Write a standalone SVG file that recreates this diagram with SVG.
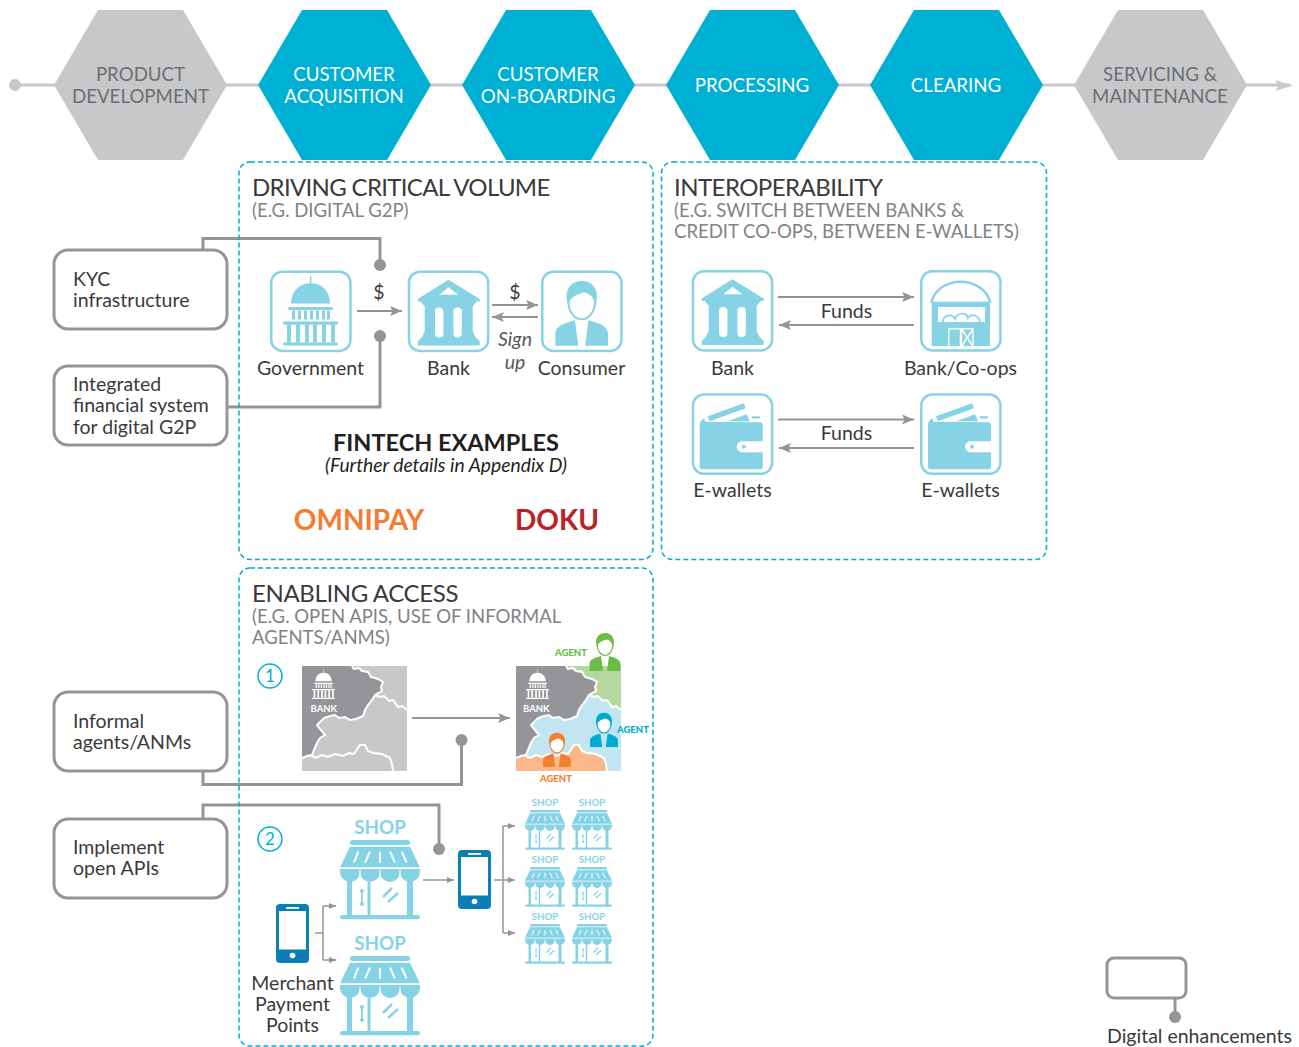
<svg xmlns="http://www.w3.org/2000/svg" width="1299" height="1047" viewBox="0 0 1299 1047">
<style>
text{font-family:"Lato","Liberation Sans",sans-serif;fill:#3a3a3c;font-size:19.5px}
.m{text-anchor:middle}
.hw{fill:#fff;font-size:18.7px}.hg{fill:#6d6e71;font-size:18.7px}
.t{font-size:24px;letter-spacing:-.55px}.s{font-size:18.55px;fill:#808285}
.dash{fill:none;stroke:#00add0;stroke-width:1.5;stroke-dasharray:5 3}
.box{fill:#fff;stroke:#939598;stroke-width:3}
.con{fill:none;stroke:#939598;stroke-width:3}
.dot{fill:#939598}
.ic{fill:#fff;stroke:#86d3e6;stroke-width:2.5}
.ar{fill:none;stroke:#939598;stroke-width:2;marker-end:url(#a)}
.ar2{fill:none;stroke:#939598;stroke-width:1.5;marker-end:url(#b)}
.br{fill:none;stroke:#939598;stroke-width:1.5}
.sh{fill:#86d3e6;font-weight:700;text-anchor:middle;font-size:18.8px}
.sm{font-size:9.7px}
.ag{font-size:9.5px;font-weight:900}
.bk{font-size:9.5px;font-weight:700;fill:#fff}
.tw{stroke:#fff;stroke-width:2;fill:none}
</style>
<defs>
<marker id="a" markerUnits="userSpaceOnUse" markerWidth="12" markerHeight="10" refX="12" refY="5" orient="auto"><path d="M0,0L12,5L0,10L2.5,5Z" fill="#939598"/></marker>
<marker id="b" markerUnits="userSpaceOnUse" markerWidth="7" markerHeight="6" refX="7" refY="3" orient="auto"><path d="M0,0L7,3L0,6Z" fill="#939598"/></marker>
<g id="bank" fill="#86d3e6">
<path d="M40.700,9.300L72,28.500V31H69L65,36V61L68,67L72,71V75H10V71L14,67L17,61V36L13,31H10V28.500Z"/>
<path d="M40.700,16.700L31.700,24.300H50.700Z" fill="#fff"/>
<rect x="27.300" y="37" width="8.400" height="30" rx="4" fill="#fff"/>
<rect x="45.700" y="37" width="8.400" height="30" rx="4" fill="#fff"/>
</g>
<g id="gov" fill="currentColor">
<rect x="40" y="6" width="1.400" height="8"/>
<path d="M21,33C21,20 30,12.700 40.700,12.700S60,20 60,33Z"/>
<rect x="18" y="36.500" width="45" height="3" rx="1.500"/>
<path d="M22,40h3v9h-3zM28,40h3v9h-3zM34,40h3v9h-3zM40,40h3v9h-3zM46,40h3v9h-3zM52,40h3v9h-3zM57,40h3v9h-3z"/>
<rect x="13" y="51" width="55" height="3.200" rx="1.500"/>
<path d="M17,54h4v18h-4zM26,54h4v18h-4zM35,54h4v18h-4zM43,54h4v18h-4zM52,54h4v18h-4zM61,54h4v18h-4z"/>
<rect x="13" y="72" width="55" height="3" rx="1.500"/>
</g>
<g id="person" fill="currentColor">
<ellipse cx="0" cy="0" rx="7.800" ry="10.500" fill="#fff" stroke="currentColor" stroke-width="1.200"/>
<path d="M-8,2C-11,-7 -6,-12 0,-12C7,-12 11,-6 8,3C7.500,-2 5,-5 1,-5.500C-3,-3.500 -6.500,-3.500 -8,2Z"/>
<path d="M-15.500,26V19C-15.500,14 -9,12.500 -4,11L-2,26Z"/>
<path d="M15.500,26V19C15.500,14 9,12.500 4,11L2,26Z"/>
</g>
<g id="barn">
<path d="M11.700,33V31.700C14,20 27,11.700 40.700,11.700S67,20 70,31.700V33" fill="#fff" stroke="#86d3e6" stroke-width="2.500"/>
<rect x="11.700" y="31.700" width="58.300" height="44.300" fill="#86d3e6"/>
<rect x="18" y="37" width="47" height="15" fill="#fff"/>
<path d="M23,52c0,-7 9,-9 12,-3c2,-7 12,-7 13,-1c3,-5 11,-3 12,4" fill="none" stroke="#86d3e6" stroke-width="1.800"/>
<rect x="28.700" y="58.700" width="11.800" height="18" fill="#86d3e6" stroke="#fff" stroke-width="1.500"/>
<path d="M41.500,58.700h11.500v18h-11.500zM41.500,58.700l11.500,18M53,58.700l-11.500,18" fill="none" stroke="#fff" stroke-width="1.500"/>
</g>
<g id="wallet">
<path d="M16,23L52,10L54,15L18,28Z" fill="#86d3e6"/>
<path d="M36,28L55,21L58,28Z" fill="#86d3e6"/>
<rect x="60" y="23" width="8" height="2.200" fill="#86d3e6"/>
<path d="M8,32C8,28 10,26 13,25V28.500L68,29C70,29 71,30 71,32V74C71,75 70,76 69,76H10C9,76 8,75 8,74Z" fill="#86d3e6"/>
<path d="M51,48H72.500C74,48 74.500,50 74.500,53.500S74,59 72.500,59H51C48,59 45,57 45,53.500S48,48 51,48Z" fill="#fff"/>
<circle cx="52" cy="53.500" r="2" fill="#86d3e6"/>
</g>
<g id="shopart" fill="#86d3e6">
<rect x="10" y="20" width="60" height="5" rx="2.500"/>
<path d="M10,26.700H70L80,47.300H0Z"/>
<path d="M18.300,31.700L14,42.700M30,31.700L25,42.700M40,31.700V42.700M50,31.700L55,42.700M61.700,31.700L66.700,42.700" stroke="#fff" stroke-width="2" fill="none"/>
<path d="M0,49H80V52a10,10 0 0 1 -20,0a10,10 0 0 1 -20,0a10,10 0 0 1 -20,0a10,10 0 0 1 -20,0Z"/>
<path d="M20,50V62M40,50V62M60,50V62" stroke="#fff" stroke-width="1" fill="none"/>
<path d="M7,58h5v38h-5zM67,58h6v38h-6zM27.500,62h3v34h-3z"/>
<rect x="0" y="95" width="80" height="4.300" rx="2.100"/>
<path d="M22,70V85" stroke="#86d3e6" stroke-width="1.800"/>
<circle cx="22" cy="71" r="2"/><circle cx="22" cy="84" r="2"/>
<path d="M43,77L52,68M48,82L58,73" stroke="#86d3e6" stroke-width="2.500" fill="none"/>
</g>
<g id="phone">
<rect width="33" height="59" rx="4" fill="#0a7fb5"/>
<rect x="3" y="7" width="27" height="38.500" fill="#fff"/>
<rect x="10" y="3" width="13" height="1.800" fill="#fff"/>
<circle cx="16.500" cy="51.500" r="2.800" fill="#fff"/>
</g>
<path id="mapdark" d="M50,0L52,3L57,2L60,5L66,6L69,11L76,13L81,16L79,21L80,25L73,29L70,34L66,39L63,44L61,50L54,53L48,54L43,51L37,52L33,49L28,50L22,52L15,59L18,63L23,69L18,72L15,77L12,84L10,89L5,90L0,92V0Z"/>
<g id="mapline">
<path class="tw" d="M50,0L52,3L57,2L60,5L66,6L69,11L76,13L81,16L79,21L80,25L73,29L70,34L66,39L63,44L61,50L54,53L48,54L43,51L37,52L33,49L28,50L22,52L15,59L18,63L23,69L18,72L15,77L12,84L10,89L5,90L0,92"/>
<path class="tw" d="M73,29L78,31L82,30L87,35L91,34L96,41L100,40L105,44"/>
<path class="tw" d="M8,89L14,92L20,89L26,91L33,88L41,90L47,87L52,88L58,79L63,79L66,85L71,87L80,88L88,92L90,98L91,105"/>
</g>
</defs>

<g id="connectors">
<path d="M15,85H1290" fill="none" stroke="#c7c8ca" stroke-width="3"/>
<path d="M1275,80L1293,85.500L1275,91L1279,85.500Z" fill="#c7c8ca"/>
<circle cx="15" cy="85" r="6" fill="#c7c8ca"/>
<path class="con" d="M203,250V238.500H380V265"/><circle class="dot" cx="380" cy="265" r="6"/>
<path class="con" d="M227,407H380V336"/><circle class="dot" cx="380" cy="336" r="6"/>
<path class="con" d="M203,771V784.500H461.500V740"/><circle class="dot" cx="461.500" cy="740" r="6"/>
<path class="con" d="M203,818V805H439V849"/><circle class="dot" cx="439" cy="849" r="6"/>
<path class="con" d="M1175,998V1017"/><circle class="dot" cx="1175" cy="1017" r="6"/>
<path class="ar" d="M357,311H402"/>
<path class="ar" d="M492,305H538"/>
<path class="ar" d="M538,317H492"/>
<path class="ar" d="M778,297H914"/>
<path class="ar" d="M914,325H779"/>
<path class="ar" d="M778,419.500H914"/>
<path class="ar" d="M914,448H779"/>
<path class="ar" d="M412,718H510"/>
<path class="ar2" d="M423,880H454"/>
<path class="br" d="M494,880H503"/>
<path class="br" d="M503,826V933"/>
<path class="ar2" d="M503,826H515"/><path class="ar2" d="M503,880H515"/><path class="ar2" d="M503,933H515"/>
<path class="br" d="M315,933H323M323,906V960"/>
<path class="ar2" d="M323,906H336"/><path class="ar2" d="M323,960H336"/>
</g>

<g id="hex-product"><polygon points="54,85 98,10 183,10 227,85 183,160 98,160" fill="#c7c8ca"/><text class="m hg" x="140.500" y="81">PRODUCT</text><text class="m hg" x="140.500" y="103">DEVELOPMENT</text></g>
<g id="hex-acquisition"><polygon points="258,85 302,10 387,10 431,85 387,160 302,160" fill="#00b0d4"/><text class="m hw" x="344" y="81">CUSTOMER</text><text class="m hw" x="344" y="103">ACQUISITION</text></g>
<g id="hex-onboarding"><polygon points="462,85 506,10 591,10 635,85 591,160 506,160" fill="#00b0d4"/><text class="m hw" x="548" y="81">CUSTOMER</text><text class="m hw" x="548" y="103">ON-BOARDING</text></g>
<g id="hex-processing"><polygon points="666,85 710,10 795,10 839,85 795,160 710,160" fill="#00b0d4"/><text class="m hw" x="752" y="92">PROCESSING</text></g>
<g id="hex-clearing"><polygon points="870,85 914,10 999,10 1043,85 999,160 914,160" fill="#00b0d4"/><text class="m hw" x="956" y="92">CLEARING</text></g>
<g id="hex-servicing"><polygon points="1074,85 1118,10 1203,10 1247,85 1203,160 1118,160" fill="#c7c8ca"/><text class="m hg" x="1160" y="81">SERVICING &amp;</text><text class="m hg" x="1160" y="103">MAINTENANCE</text></g>

<g id="panel-volume">
<rect class="dash" x="239" y="162" width="414" height="397.500" rx="11"/>
<text class="t" x="252" y="196" style="letter-spacing:-.68px">DRIVING CRITICAL VOLUME</text>
<text class="s" x="252" y="217">(E.G. DIGITAL G2P)</text>
</g>
<g id="panel-interop">
<rect class="dash" x="661.500" y="162" width="385" height="397.500" rx="11"/>
<text class="t" x="674" y="196">INTEROPERABILITY</text>
<text class="s" x="674" y="217">(E.G. SWITCH BETWEEN BANKS &amp;</text>
<text class="s" x="674" y="238">CREDIT CO-OPS, BETWEEN E-WALLETS)</text>
</g>
<g id="panel-access">
<rect class="dash" x="239" y="568" width="414" height="478" rx="11"/>
<text class="t" x="252" y="602" style="letter-spacing:-.37px">ENABLING ACCESS</text>
<text class="s" x="252" y="623">(E.G. OPEN APIS, USE OF INFORMAL</text>
<text class="s" x="252" y="644">AGENTS/ANMS)</text>
</g>

<g id="box-kyc"><rect class="box" x="54" y="250" width="173" height="79" rx="14"/><text x="73" y="286">KYC</text><text x="73" y="307">infrastructure</text></g>
<g id="box-integrated"><rect class="box" x="54" y="366" width="173" height="79" rx="14"/><text x="73" y="391">Integrated</text><text x="73" y="412">financial system</text><text x="73" y="434">for digital G2P</text></g>
<g id="box-informal"><rect class="box" x="54" y="692" width="173" height="79" rx="14"/><text x="73" y="728">Informal</text><text x="73" y="749">agents/ANMs</text></g>
<g id="box-openapi"><rect class="box" x="54" y="819" width="173" height="79" rx="14"/><text x="73" y="854">Implement</text><text x="73" y="875">open APIs</text></g>
<g id="legend"><rect class="box" x="1107" y="958" width="79" height="40" rx="7"/><text x="1107" y="1043">Digital enhancements</text></g>

<g id="node-government" transform="translate(270,270.500)"><rect class="ic" x="1.250" y="1.250" width="79.200" height="79.200" rx="11"/><use href="#gov" color="#86d3e6"/></g>
<g id="label-government"><text class="m" x="310.500" y="375">Government</text><text class="m" x="379" y="299">$</text></g>
<g id="node-bank" transform="translate(407.700,270.500)"><rect class="ic" x="1.250" y="1.250" width="79.200" height="79.200" rx="11"/><use href="#bank"/></g>
<g id="label-bank"><text class="m" x="448.500" y="375">Bank</text><text class="m" x="515" y="299">$</text></g>
<g id="node-consumer" transform="translate(541,270.500)"><rect class="ic" x="1.250" y="1.250" width="79.200" height="79.200" rx="11"/><use href="#person" transform="translate(40.700,31) scale(1.700)" color="#86d3e6"/></g>
<g id="label-consumer"><text class="m" x="581.500" y="375">Consumer</text><text class="m" x="515" y="346" style="font-style:italic;fill:#58595b">Sign</text><text class="m" x="515" y="369" style="font-style:italic;fill:#58595b">up</text></g>

<g id="fintech">
<text class="m" x="446" y="451" style="font-weight:700;font-size:23.500px;fill:#231f20">FINTECH EXAMPLES</text>
<text class="m" x="446" y="472" style="font-style:italic;font-size:19.300px;fill:#231f20">(Further details in Appendix D)</text>
<text class="m" x="359" y="530" style="font-weight:700;font-size:28px;fill:#f47b30">OMNIPAY</text>
<text class="m" x="557" y="530" style="font-weight:700;font-size:28px;fill:#be2026">DOKU</text>
</g>

<g id="node-bank2" transform="translate(691.700,270)"><rect class="ic" x="1.250" y="1.250" width="79.200" height="79.200" rx="11"/><use href="#bank"/></g>
<g id="node-coops" transform="translate(920,270)"><rect class="ic" x="1.250" y="1.250" width="79.200" height="79.200" rx="11"/><use href="#barn"/></g>
<g id="node-wallet1" transform="translate(691.700,393.300)"><rect class="ic" x="1.250" y="1.250" width="79.200" height="79.200" rx="11"/><use href="#wallet"/></g>
<g id="node-wallet2" transform="translate(920,393.300)"><rect class="ic" x="1.250" y="1.250" width="79.200" height="79.200" rx="11"/><use href="#wallet"/></g>
<g id="labels-interop">
<text class="m" x="732.500" y="375">Bank</text><text class="m" x="960.500" y="375">Bank/Co-ops</text>
<text class="m" x="846.500" y="318">Funds</text><text class="m" x="846.500" y="440">Funds</text>
<text class="m" x="732.500" y="497">E-wallets</text><text class="m" x="960.500" y="497">E-wallets</text>
</g>

<g id="step1">
<circle cx="270" cy="676" r="12" fill="none" stroke="#00b0d4" stroke-width="1.500"/>
<text class="m" x="270" y="682" style="font-size:17px;fill:#00b0d4">1</text>
</g>
<g id="map-before">
<rect x="302" y="666" width="105" height="105" fill="#c7c8ca"/>
<g transform="translate(302,666)"><use href="#mapdark" fill="#939598"/><use href="#mapline"/></g>
<use href="#gov" transform="translate(306.500,667.500) scale(.42)" color="#fff"/>
<text class="bk" x="310.500" y="712">BANK</text>
</g>
<g id="map-after">
<rect x="516" y="666" width="105" height="105" fill="#c2e6f1"/>
<g transform="translate(516,666)">
<path d="M50,0H105V44L100,40L96,41L91,34L87,35L82,30L78,31L73,29L80,25L81,16L70,12L60,4L53,3Z" fill="#b5d99c"/>
<path d="M0,92L8,89L14,92L20,89L26,91L33,88L41,90L47,87L52,88L58,79L63,79L66,85L71,87L80,88L88,92L90,98L91,105H0Z" fill="#fbb98a"/>
<use href="#mapdark" fill="#939598"/>
<use href="#mapline"/>
</g>
<use href="#gov" transform="translate(520.500,667.500) scale(.42)" color="#fff"/>
<text class="bk" x="523" y="712">BANK</text>
</g>
<g id="agents">
<use href="#person" transform="translate(605,645)" color="#6cbd45"/>
<text class="ag" x="555" y="656" style="fill:#6cbd45">AGENT</text>
<use href="#person" transform="translate(604,723.500) scale(.9)" color="#00add0"/>
<text class="ag" x="617" y="733" style="fill:#00add0">AGENT</text>
<use href="#person" transform="translate(557,743.500) scale(.9)" color="#f47f31"/>
<text class="ag" x="540" y="782" style="fill:#f47f31">AGENT</text>
</g>

<g id="step2">
<circle cx="270" cy="839" r="12" fill="none" stroke="#00b0d4" stroke-width="1.500"/>
<text class="m" x="270" y="845" style="font-size:17px;fill:#00b0d4">2</text>
</g>
<g id="phone-merchant"><use href="#phone" x="276" y="904"/><text class="m" x="292.500" y="990">Merchant</text><text class="m" x="292.500" y="1011">Payment</text><text class="m" x="292.500" y="1032">Points</text></g>
<g id="phone-shop"><use href="#phone" x="458" y="850"/></g>
<g id="shop-a"><text class="sh" x="380" y="834">SHOP</text><use href="#shopart" transform="translate(340,820)"/></g>
<g id="shop-b"><text class="sh" x="380" y="950">SHOP</text><use href="#shopart" transform="translate(340,936)"/></g>
<g id="shops-small">
<text class="sh sm" x="545" y="806">SHOP</text><use href="#shopart" transform="translate(525,800) scale(.5)"/>
<text class="sh sm" x="592" y="806">SHOP</text><use href="#shopart" transform="translate(572,800) scale(.5)"/>
<text class="sh sm" x="545" y="863">SHOP</text><use href="#shopart" transform="translate(525,857) scale(.5)"/>
<text class="sh sm" x="592" y="863">SHOP</text><use href="#shopart" transform="translate(572,857) scale(.5)"/>
<text class="sh sm" x="545" y="920">SHOP</text><use href="#shopart" transform="translate(525,914) scale(.5)"/>
<text class="sh sm" x="592" y="920">SHOP</text><use href="#shopart" transform="translate(572,914) scale(.5)"/>
</g>
</svg>
